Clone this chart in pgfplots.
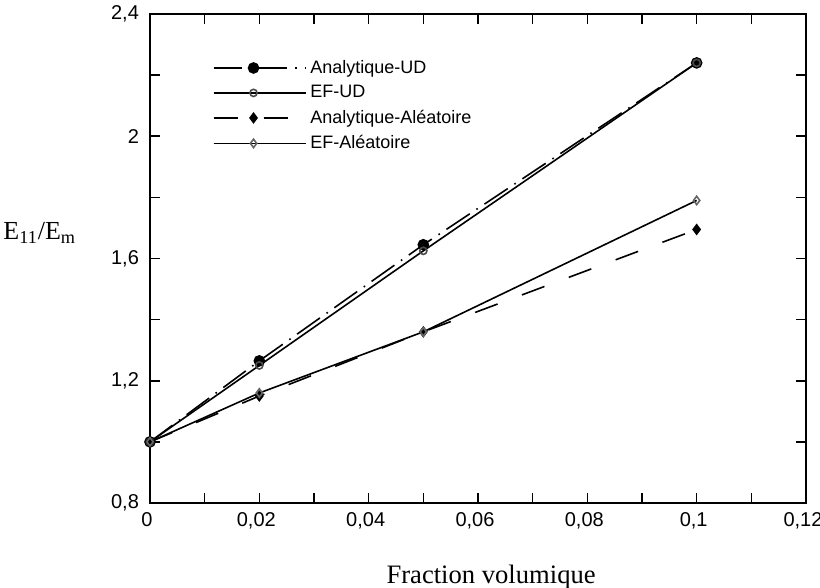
\documentclass[border=0pt]{standalone}
\usepackage{pgfplots}
\pgfplotsset{compat=1.18}
\usepackage{fontspec}
\setsansfont{Liberation Sans}
\newfontfamily\labelfont{Liberation Serif}

\begin{document}
\begin{tikzpicture}
\begin{axis}[
  scale only axis,
  width=328pt, height=244.5pt,
  xmin=0, xmax=0.12, ymin=0.8, ymax=2.4,
  xtick={0,0.02,...,0.121},
  minor xtick={0.01,0.03,...,0.111},
  ytick={0.8,1.2,...,2.41},
  minor ytick={1.0,1.4,...,2.21},
  tick align=inside,
  major tick length=5pt, minor tick length=5pt,
  every tick/.style={black, line width=0.8pt},
  axis line style={line width=0.9pt},
  /pgf/number format/assume math mode=true,
  /pgf/number format/use comma,
  /pgf/number format/fixed,
  /pgf/number format/precision=2,
  scaled x ticks=false,
  tick label style={font=\sffamily\fontsize{10}{12}\selectfont},
  xticklabel style={xshift=-1.5pt, yshift=-1pt},
  yticklabel style={xshift=-2pt},
  xlabel={Fraction volumique},
  xlabel style={at={(axis description cs:0.52,-0.164)}, anchor=base,
    font=\labelfont\fontsize{13.3}{15}\selectfont},
  ylabel={E\textsubscript{11}/E\textsubscript{m}},
  ylabel style={at={(axis description cs:-0.168,0.538)}, anchor=base, rotate=-90,
    font=\labelfont\fontsize{13}{15}\selectfont},
  legend cell align=left,
  legend style={draw=none, fill=none, at={(0.095,0.915)}, anchor=north west,
    font=\sffamily\fontsize{9}{10}\selectfont, row sep=0.6pt, inner sep=0pt},
  % sample line with the mark in its middle, plus blank room before the text
  legend image code/.code={
    \path (0pt,0pt) -- (46pt,0pt);
    \draw[mark repeat=2, mark phase=2, #1] plot coordinates {(0pt,0pt) (20pt,0pt) (40pt,0pt)};
  },
  every axis plot/.append style={line width=0.8pt, black},
]
% Analytic model, unidirectional fibres
\addplot[dash pattern=on 14pt off 4pt on 0.8pt off 4pt, mark=*, mark size=2.5pt,
  mark options={solid, fill=black}]
  coordinates {(0,1) (0.02,1.265) (0.05,1.645) (0.1,2.24)};
\addlegendentry{Analytique-UD}
% Finite elements, unidirectional fibres
\addplot[solid, mark=o, mark size=1.8pt, mark options={solid, fill=white, draw=black!70}]
  coordinates {(0,1) (0.02,1.25) (0.05,1.625) (0.1,2.24)};
\addlegendentry{EF-UD}
% Analytic model, random fibres
\addplot[dash pattern=on 12pt off 13pt, mark=diamond*, mark size=2.3pt,
  mark options={solid, fill=black}]
  coordinates {(0,1) (0.02,1.15) (0.05,1.36) (0.1,1.695)};
\addlegendentry{Analytique-Aléatoire}
% Finite elements, random fibres
\addplot[solid, mark=diamond, mark size=2.1pt, mark options={solid, fill=white, draw=black!60}]
  coordinates {(0,1) (0.02,1.16) (0.05,1.36) (0.1,1.79)};
\addlegendentry{EF-Aléatoire}
\end{axis}
\pgfresetboundingbox
\path ([xshift=-75pt, yshift=-42.5pt]current axis.south west)
  rectangle ([xshift=7pt, yshift=7pt]current axis.north east);
\end{tikzpicture}
\end{document}
